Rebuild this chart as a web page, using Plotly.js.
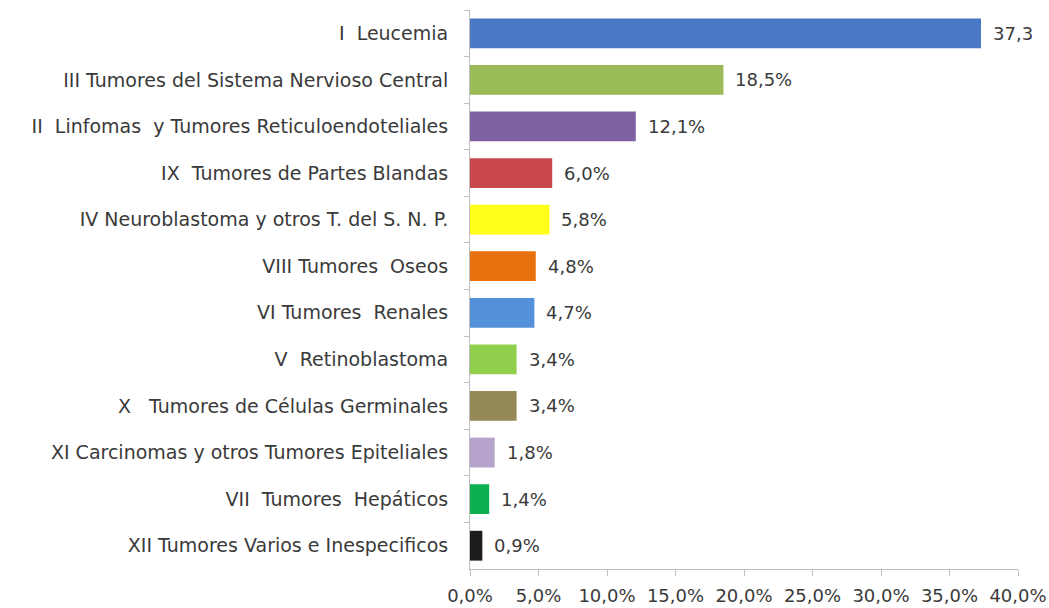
<!DOCTYPE html>
<html>
<head>
<meta charset="utf-8">
<script src="https://cdn.plot.ly/plotly-3.0.1.min.js"></script>
<style>
  html, body { margin: 0; padding: 0; background: #fff; }
  #chart { width: 1049px; height: 608px; }
</style>
</head>
<body>
<div id="chart"></div>
<script>
// tipos de tumor, de mayor a menor
var categorias = [
  "I  Leucemia",
  "III Tumores del Sistema Nervioso Central",
  "II  Linfomas  y Tumores Reticuloendoteliales",
  "IX  Tumores de Partes Blandas",
  "IV Neuroblastoma y otros T. del S. N. P.",
  "VIII Tumores  Oseos",
  "VI Tumores  Renales",
  "V  Retinoblastoma",
  "X   Tumores de Células Germinales",
  "XI Carcinomas y otros Tumores Epiteliales",
  "VII  Tumores  Hepáticos",
  "XII Tumores Varios e Inespecificos"
];
var porcentajes = [37.3, 18.5, 12.1, 6.0, 5.8, 4.8, 4.7, 3.4, 3.4, 1.8, 1.4, 0.9];
var etiquetas = ["37,3", "18,5%", "12,1%", "6,0%", "5,8%", "4,8%", "4,7%", "3,4%", "3,4%", "1,8%", "1,4%", "0,9%"];
var colores = ["#4a78c6", "#9bbb59", "#7f62a4", "#c8474a", "#ffff1a", "#e8700f",
               "#5590db", "#8fcf4c", "#958a55", "#b5a3cc", "#0cb04f", "#1c1c1c"];
var ticksX = [0, 5, 10, 15, 20, 25, 30, 35, 40];
var ticksXTexto = ["0,0%", "5,0%", "10,0%", "15,0%", "20,0%", "25,0%", "30,0%", "35,0%", "40,0%"];

var fuente = "DejaVu Sans, Verdana, sans-serif";

var data = [{
  type: "bar",
  orientation: "h",
  x: porcentajes,
  y: categorias,
  marker: { color: colores, line: { width: 0 } },
  hoverinfo: "none"
}];

// etiquetas de valor a la derecha de cada barra
var anotaciones = [];
for (var i = 0; i < categorias.length; i++) {
  anotaciones.push({
    x: porcentajes[i],
    y: categorias[i],
    xref: "x",
    yref: "y",
    text: etiquetas[i],
    showarrow: false,
    xanchor: "left",
    xshift: 10,
    font: { family: fuente, size: 18, color: "#3a3a3a" }
  });
}

var layout = {
  width: 1049,
  height: 608,
  margin: { l: 470, r: 31, t: 10, b: 39 },
  paper_bgcolor: "#fff",
  plot_bgcolor: "#fff",
  showlegend: false,
  bargap: 0.36,
  font: { family: fuente, size: 18, color: "#3a3a3a" },
  xaxis: {
    range: [0, 40],
    tickvals: ticksX,
    ticktext: ticksXTexto,
    showgrid: false,
    zeroline: false,
    showline: true,
    linecolor: "#bfbfbf",
    linewidth: 1,
    ticks: "outside",
    ticklen: 6,
    tickcolor: "#bfbfbf",
    ticklabelstandoff: 4,
    tickfont: { family: fuente, size: 18, color: "#3a3a3a" }
  },
  yaxis: {
    autorange: "reversed",
    showgrid: false,
    zeroline: false,
    showline: true,
    linecolor: "#bfbfbf",
    linewidth: 1,
    ticks: "outside",
    tickson: "boundaries",
    ticklen: 5,
    tickcolor: "#bfbfbf",
    ticklabelstandoff: 17,
    tickfont: { family: fuente, size: 19, color: "#3a3a3a" }
  },
  annotations: anotaciones
};

Plotly.newPlot("chart", data, layout, { displayModeBar: false, staticPlot: true });
</script>
</body>
</html>
